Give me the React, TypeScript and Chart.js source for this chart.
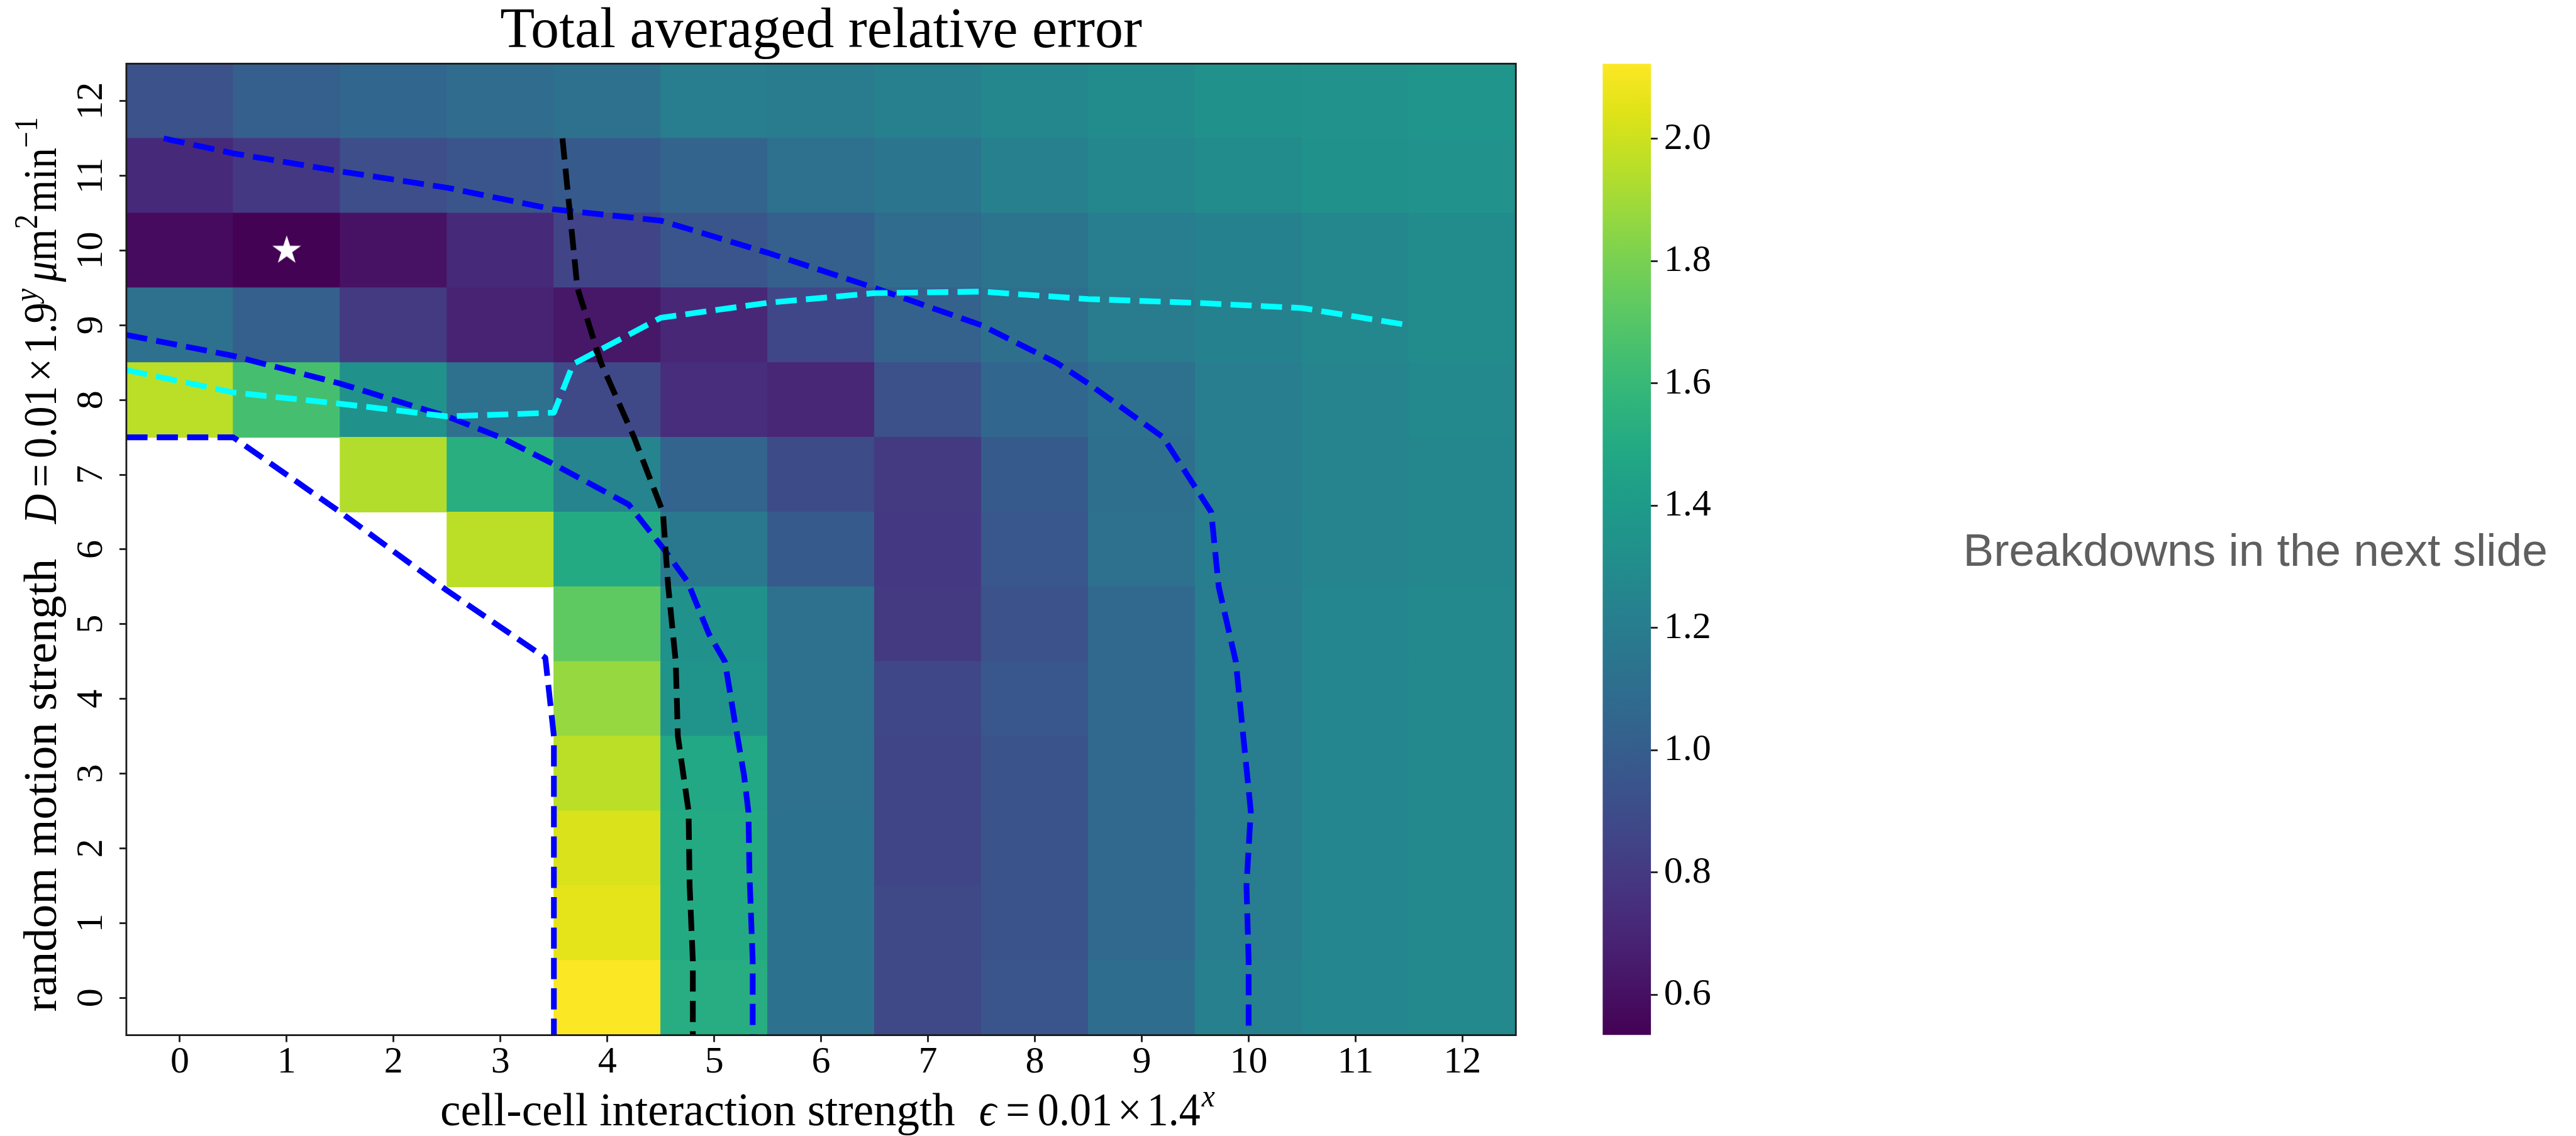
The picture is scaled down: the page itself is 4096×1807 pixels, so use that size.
import React, { useEffect, useRef } from 'react';
import { Chart, registerables } from 'chart.js';

Chart.register(...registerables);

// ---------------- text ----------------
const titleText = 'Total averaged relative error';
const sideNote = 'Breakdowns in the next slide';

// ---------------- axes / ticks ----------------
const xTickValues = [0, 1, 2, 3, 4, 5, 6, 7, 8, 9, 10, 11, 12];
const yTickValues = [0, 1, 2, 3, 4, 5, 6, 7, 8, 9, 10, 11, 12];
const colorbarTicks = [0.6, 0.8, 1.0, 1.2, 1.4, 1.6, 1.8, 2.0];
const colorMin = 0.534;
const colorMax = 2.123;

// ---------------- heatmap values (row y, columns x = 0..12); null = no data ----------------
const errRow0 = [null, null, null, null, 2.12, 1.52, 1.13, 0.88, 0.95, 1.1, 1.22, 1.26, 1.28];
const errRow1 = [null, null, null, null, 2.06, 1.5, 1.13, 0.88, 0.94, 1.07, 1.2, 1.26, 1.28];
const errRow2 = [null, null, null, null, 2.03, 1.5, 1.13, 0.86, 0.94, 1.07, 1.2, 1.26, 1.28];
const errRow3 = [null, null, null, null, 1.96, 1.49, 1.12, 0.86, 0.94, 1.07, 1.2, 1.26, 1.28];
const errRow4 = [null, null, null, null, 1.87, 1.35, 1.12, 0.87, 0.96, 1.07, 1.2, 1.26, 1.28];
const errRow5 = [null, null, null, null, 1.73, 1.33, 1.12, 0.8, 0.93, 1.07, 1.2, 1.26, 1.28];
const errRow6 = [null, null, null, 1.96, 1.5, 1.17, 0.98, 0.79, 0.96, 1.12, 1.21, 1.25, 1.27];
const errRow7 = [null, null, 1.94, 1.53, 1.25, 1.04, 0.9, 0.8, 0.98, 1.11, 1.2, 1.25, 1.27];
const errRow8 = [1.96, 1.65, 1.33, 1.12, 0.88, 0.74, 0.71, 0.92, 1.06, 1.12, 1.2, 1.25, 1.28];
const errRow9 = [1.12, 1.01, 0.8, 0.69, 0.63, 0.71, 0.87, 1.03, 1.11, 1.19, 1.23, 1.27, 1.3];
const errRow10 = [0.58, 0.54, 0.61, 0.72, 0.85, 0.95, 1.01, 1.09, 1.14, 1.2, 1.23, 1.27, 1.3];
const errRow11 = [0.72, 0.79, 0.91, 0.95, 0.98, 1.04, 1.12, 1.15, 1.22, 1.27, 1.3, 1.33, 1.34];
const errRow12 = [0.93, 1.01, 1.06, 1.09, 1.12, 1.2, 1.19, 1.22, 1.27, 1.3, 1.33, 1.34, 1.36];
const errorRows = [errRow0, errRow1, errRow2, errRow3, errRow4, errRow5, errRow6, errRow7, errRow8, errRow9, errRow10, errRow11, errRow12];

// ---------------- contour lines (x, y in grid units) ----------------
const blueUpper = [[-0.15, 11.5], [0.5, 11.3], [1.5, 11.06], [2.5, 10.84], [3.5, 10.55], [4.5, 10.4], [5.5, 9.97], [6.5, 9.5], [7.5, 9.0], [8.2, 8.5], [8.5, 8.22], [9.2, 7.5], [9.47, 6.9], [9.65, 6.5], [9.72, 5.5], [9.88, 4.5], [9.95, 3.5], [10.02, 2.5], [9.98, 1.5], [10.0, 0.5], [10.0, -0.5]];
const blueMiddle = [[-0.5, 8.87], [0.5, 8.59], [1.5, 8.22], [2.5, 7.78], [3.0, 7.5], [3.5, 7.14], [4.2, 6.6], [4.52, 6.02], [4.75, 5.57], [4.95, 4.87], [5.1, 4.5], [5.19, 3.72], [5.28, 2.97], [5.32, 2.49], [5.33, 1.65], [5.36, 0.5], [5.36, -0.5]];
const blueLower = [[-0.5, 7.5], [0.5, 7.5], [1.5, 6.5], [2.5, 5.45], [3.42, 4.55], [3.5, 3.5], [3.5, -0.5]];
const blackLine = [[3.58, 11.5], [3.65, 10.5], [3.72, 9.5], [3.94, 8.5], [4.25, 7.5], [4.52, 6.5], [4.57, 5.5], [4.64, 4.5], [4.66, 3.5], [4.76, 2.5], [4.77, 1.5], [4.8, 0.5], [4.8, -0.5]];
const cyanLine = [[-0.5, 8.4], [0.5, 8.1], [1.5, 7.95], [2.5, 7.78], [3.5, 7.83], [3.68, 8.48], [4.5, 9.1], [5.5, 9.3], [6.5, 9.43], [7.5, 9.45], [8.5, 9.35], [9.5, 9.3], [10.5, 9.23], [11.5, 9.0]];
const bestPoint = [1, 10];

// ---------------- styling / layout (window px) ----------------
const WIN_W = 4096;
const WIN_H = 1807;
const PLOT_L = 200.9;
const PLOT_R = 2410.3;
const PLOT_T = 101.3;
const PLOT_B = 1646.6;
const MAIN_W = 2500;
const CB_X = 2500;
const CB_W = 600;
const CB_L = 2548.2;
const CB_R = 2625.3;
const SERIF = '"Liberation Serif", "DejaVu Serif", serif';
const TICK_FONT = { family: SERIF, size: 60, lineHeight: 1 };
const LW = 9.1;
const DASH = [33.7, 14.6];
// axis-title placement
const X_LABEL_SIZE = 73;
const X_LABEL_START = 700;
const X_LABEL_BASE = 1789.5;
const X_MATH_GAP = 38;
const X_MATH_W = 375;
const Y_LABEL_SIZE = 75;
const Y_LABEL_BASE_X = 89;
const Y_LABEL_START = 1609.6;
const Y_MATH_GAP = 55.7;
const Y_MATH_W = 647;

const VIRIDIS = ['#440154', '#471365', '#482475', '#463480', '#414487', '#3b528b', '#355f8d', '#2f6c8e', '#2a788e', '#25848e', '#21918c', '#1e9c89', '#22a884', '#2fb47c', '#44bf70', '#5ec962', '#7ad151', '#9bd93c', '#bddf26', '#dfe318', '#fde725'];

function hexToRgb(h: string) {
  return [parseInt(h.slice(1, 3), 16), parseInt(h.slice(3, 5), 16), parseInt(h.slice(5, 7), 16)];
}
function viridis(t: number) {
  const tt = Math.max(0, Math.min(1, t));
  const p = tt * (VIRIDIS.length - 1);
  const i = Math.min(VIRIDIS.length - 2, Math.floor(p));
  const f = p - i;
  const a = hexToRgb(VIRIDIS[i]);
  const b = hexToRgb(VIRIDIS[i + 1]);
  const c = a.map((v, k) => Math.round(v + (b[k] - v) * f));
  return `rgb(${c[0]},${c[1]},${c[2]})`;
}
function colorFor(v: number) {
  return viridis((v - colorMin) / (colorMax - colorMin));
}

type Run = { t?: string; it?: boolean; sup?: boolean; gap?: number };
const xTitleWords: Run[] = [{ t: 'cell-cell interaction strength' }];
const xTitleMath: Run[] = [
  { t: '\u03f5', it: true }, { gap: 0.22 }, { t: '=' }, { gap: 0.18 },
  { t: '0.01' }, { gap: 0.12 }, { t: '\u00d7' }, { gap: 0.12 }, { t: '1.4' }, { gap: 0.03 }, { t: 'x', it: true, sup: true },
];
const yTitleWords: Run[] = [{ t: 'random motion strength' }];
const yTitleMath: Run[] = [
  { t: 'D', it: true }, { gap: 0.16 }, { t: '=' }, { gap: 0.14 },
  { t: '0.01' }, { gap: 0.1 }, { t: '\u00d7' }, { gap: 0.1 }, { t: '1.9' }, { gap: 0.03 }, { t: 'y', it: true, sup: true },
  { gap: 0.16 }, { t: '\u03bc', it: true }, { t: 'm' }, { t: '2', sup: true }, { gap: 0.06 }, { t: 'min' }, { t: '\u22121', sup: true },
];

function runFont(r: Run, size: number) {
  const s = r.sup ? size * 0.7 : size;
  return `${r.it ? 'italic ' : ''}${s}px ${SERIF}`;
}
function measureRuns(ctx: CanvasRenderingContext2D, runs: Run[], size: number) {
  let w = 0;
  for (const r of runs) {
    if (r.gap) { w += r.gap * size; continue; }
    ctx.font = runFont(r, size);
    w += ctx.measureText(r.t || '').width;
  }
  return w;
}
// draws runs from local x0 along local x axis with a horizontal condensing factor sx; returns end x
function drawRuns(ctx: CanvasRenderingContext2D, runs: Run[], size: number, x0: number, sx: number) {
  let x = x0;
  for (const r of runs) {
    if (r.gap) { x += r.gap * size * sx; continue; }
    ctx.font = runFont(r, size);
    const w = ctx.measureText(r.t || '').width;
    ctx.save();
    ctx.translate(x, r.sup ? -0.4 * size : 0);
    ctx.scale(sx, 1);
    ctx.fillText(r.t || '', 0, 0);
    ctx.restore();
    x += w * sx;
  }
  return x;
}

const framePlugin = {
  id: 'frame',
  afterDatasetsDraw(chart: any) {
    const { ctx, chartArea: a } = chart;
    ctx.save();
    ctx.strokeStyle = '#1a1a1a';
    ctx.lineWidth = 2.8;
    ctx.strokeRect(a.left, a.top, a.right - a.left, a.bottom - a.top);
    ctx.restore();
  },
};

const axisTitlePlugin = {
  id: 'richAxisTitles',
  afterDraw(chart: any) {
    const { ctx } = chart;
    ctx.save();
    ctx.fillStyle = '#000';
    ctx.textBaseline = 'alphabetic';
    ctx.textAlign = 'left';
    // x-axis title
    ctx.save();
    ctx.translate(X_LABEL_START, X_LABEL_BASE);
    let end = drawRuns(ctx, xTitleWords, X_LABEL_SIZE, 0, 1);
    const xmw = measureRuns(ctx, xTitleMath, X_LABEL_SIZE);
    drawRuns(ctx, xTitleMath, X_LABEL_SIZE, end + X_MATH_GAP, Math.min(1, X_MATH_W / xmw));
    ctx.restore();
    // y-axis title (rotated, reading bottom to top)
    ctx.save();
    ctx.translate(Y_LABEL_BASE_X, Y_LABEL_START);
    ctx.rotate(-Math.PI / 2);
    end = drawRuns(ctx, yTitleWords, Y_LABEL_SIZE, 0, 1);
    const ymw = measureRuns(ctx, yTitleMath, Y_LABEL_SIZE);
    drawRuns(ctx, yTitleMath, Y_LABEL_SIZE, end + Y_MATH_GAP, Math.min(1, Y_MATH_W / ymw));
    ctx.restore();
    ctx.restore();
  },
};

function makeStar(R: number) {
  const c = document.createElement('canvas');
  const size = Math.ceil(2 * R + 4);
  c.width = size;
  c.height = size;
  const g = c.getContext('2d')!;
  const cx = size / 2;
  const cy = size / 2;
  const r = R * 0.382;
  g.beginPath();
  for (let i = 0; i < 10; i++) {
    const ang = -Math.PI / 2 + (i * Math.PI) / 5;
    const rad = i % 2 === 0 ? R : r;
    const px = cx + rad * Math.cos(ang);
    const py = cy + rad * Math.sin(ang);
    if (i === 0) g.moveTo(px, py); else g.lineTo(px, py);
  }
  g.closePath();
  g.fillStyle = '#ffffff';
  g.fill();
  return c;
}

function lineDataset(pts: number[][], color: string, order: number) {
  return {
    type: 'line',
    data: pts.map(([x, y]) => ({ x, y })),
    borderColor: color,
    borderWidth: LW,
    borderDash: DASH,
    borderCapStyle: 'butt',
    borderJoinStyle: 'round',
    pointRadius: 0,
    fill: false,
    tension: 0,
    clip: 0,
    order,
  };
}

export default function App() {
  const mainRef = useRef<HTMLCanvasElement>(null);
  const cbRef = useRef<HTMLCanvasElement>(null);

  useEffect(() => {
    const star = makeStar(24);
    const cellSets = errorRows.map((row, ri) => {
      const pts: any[] = [];
      const cols: string[] = [];
      row.forEach((v, ci) => {
        if (v === null) return;
        pts.push({ x: xTickValues[ci], y: [yTickValues[ri] - 0.5, yTickValues[ri] + 0.5] });
        cols.push(colorFor(v as number));
      });
      return {
        type: 'bar',
        data: pts,
        backgroundColor: cols,
        borderWidth: 0,
        grouped: false,
        categoryPercentage: 1,
        barPercentage: 1,
        inflateAmount: 0.6,
        order: 10,
      };
    });

    const main = new Chart(mainRef.current!, {
      type: 'bar',
      data: {
        datasets: [
          ...cellSets,
          lineDataset(blueUpper, '#0000ff', 4),
          lineDataset(blueMiddle, '#0000ff', 4),
          lineDataset(blueLower, '#0000ff', 4),
          lineDataset(cyanLine, '#00ffff', 3),
          lineDataset(blackLine, '#000000', 2),
          {
            type: 'scatter',
            data: [{ x: bestPoint[0], y: bestPoint[1] }],
            pointStyle: star,
            pointRadius: 10,
            order: 0,
          },
        ] as any,
      },
      options: {
        responsive: false,
        animation: false,
        devicePixelRatio: 1,
        events: [],
        layout: { padding: { left: 0, top: 0, right: MAIN_W - PLOT_R, bottom: 0 } },
        plugins: { legend: { display: false }, tooltip: { enabled: false }, title: { display: false } },
        scales: {
          x: {
            type: 'linear',
            position: 'bottom',
            offset: false,
            min: -0.5,
            max: 12.5,
            afterBuildTicks: (s: any) => { s.ticks = xTickValues.map((v) => ({ value: v })); },
            afterFit: (s: any) => { s.height = WIN_H - PLOT_B; },
            ticks: { autoSkip: false, maxRotation: 0, font: TICK_FONT, color: '#000', padding: 3, callback: (v: any) => String(v) },
            grid: { display: true, offset: false, drawOnChartArea: false, drawTicks: true, tickLength: 11, tickWidth: 2.8, tickColor: '#1a1a1a' },
            border: { display: false },
          },
          y: {
            type: 'linear',
            position: 'left',
            offset: false,
            min: -0.5,
            max: 12.5,
            afterBuildTicks: (s: any) => { s.ticks = yTickValues.map((v) => ({ value: v })); },
            afterFit: (s: any) => { s.width = PLOT_L; },
            ticks: { autoSkip: false, minRotation: 90, maxRotation: 90, crossAlign: 'center', font: TICK_FONT, color: '#000', padding: 14, callback: (v: any) => String(v) },
            grid: { display: true, offset: false, drawOnChartArea: false, drawTicks: true, tickLength: 11, tickWidth: 2.8, tickColor: '#1a1a1a' },
            border: { display: false },
          },
          x2: {
            type: 'linear',
            position: 'top',
            display: true,
            offset: false,
            grid: { display: false },
            ticks: { display: false },
            border: { display: false },
            title: { display: true, text: titleText, color: '#000', font: { family: SERIF, size: 90, lineHeight: 1 }, padding: { top: 6.6, bottom: 0 } },
            afterFit: (s: any) => { s.height = PLOT_T; },
          },
        },
      } as any,
      plugins: [framePlugin, axisTitlePlugin],
    });

    const cb = new Chart(cbRef.current!, {
      type: 'bar',
      data: {
        labels: ['colorbar'],
        datasets: [
          {
            data: [[colorMin, colorMax]],
            backgroundColor: (c: any) => {
              const a = c.chart.chartArea;
              if (!a) return VIRIDIS[0];
              const g = c.chart.ctx.createLinearGradient(0, a.bottom, 0, a.top);
              VIRIDIS.forEach((col, i) => g.addColorStop(i / (VIRIDIS.length - 1), col));
              return g;
            },
            borderWidth: 0,
            categoryPercentage: 1,
            barPercentage: 1,
            inflateAmount: 0,
          },
        ] as any,
      },
      options: {
        responsive: false,
        animation: false,
        devicePixelRatio: 1,
        events: [],
        layout: { padding: { left: CB_L - CB_X, top: PLOT_T, right: 0, bottom: WIN_H - PLOT_B } },
        plugins: { legend: { display: false }, tooltip: { enabled: false } },
        scales: {
          x: { display: false },
          y: {
            type: 'linear',
            position: 'right',
            min: colorMin,
            max: colorMax,
            afterBuildTicks: (s: any) => { s.ticks = colorbarTicks.map((v) => ({ value: v })); },
            afterFit: (s: any) => { s.width = CB_W - (CB_R - CB_X); },
            ticks: { autoSkip: false, font: TICK_FONT, color: '#000', padding: 10, callback: (v: any) => Number(v).toFixed(1) },
            grid: { display: true, drawOnChartArea: false, drawTicks: true, tickLength: 10.5, tickWidth: 2.8, tickColor: '#1a1a1a' },
            border: { display: false },
          },
        },
      } as any,
    });

    return () => {
      main.destroy();
      cb.destroy();
    };
  }, []);

  return (
    <div style={{ position: 'absolute', left: 0, top: 0, width: WIN_W, height: WIN_H, overflow: 'hidden', background: '#ffffff' }}>
      <canvas ref={mainRef} width={MAIN_W} height={WIN_H} style={{ position: 'absolute', left: 0, top: 0, width: MAIN_W, height: WIN_H }} />
      <canvas ref={cbRef} width={CB_W} height={WIN_H} style={{ position: 'absolute', left: CB_X, top: 0, width: CB_W, height: WIN_H }} />
      <div
        style={{
          position: 'absolute',
          left: 3121.5,
          top: 838.2,
          fontFamily: '"Liberation Sans", Arial, Helvetica, sans-serif',
          fontSize: 73,
          lineHeight: '73px',
          color: '#5f5f5f',
          whiteSpace: 'nowrap',
        }}
      >
        {sideNote}
      </div>
    </div>
  );
}
